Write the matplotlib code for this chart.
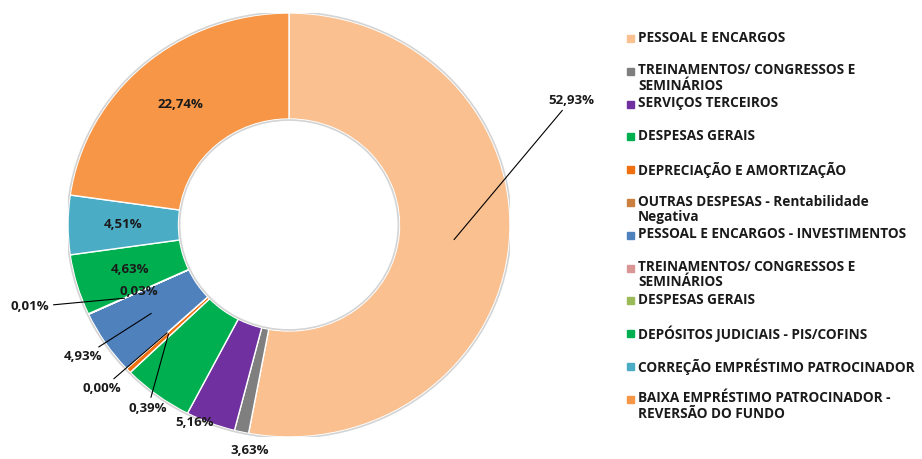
import numpy as np
import matplotlib.pyplot as plt
from matplotlib.patches import Circle, Rectangle

categorias = [
    "PESSOAL E ENCARGOS",
    "TREINAMENTOS/ CONGRESSOS E\nSEMINÁRIOS",
    "SERVIÇOS TERCEIROS",
    "DESPESAS GERAIS",
    "DEPRECIAÇÃO E AMORTIZAÇÃO",
    "OUTRAS DESPESAS - Rentabilidade\nNegativa",
    "PESSOAL E ENCARGOS - INVESTIMENTOS",
    "TREINAMENTOS/ CONGRESSOS E\nSEMINÁRIOS",
    "DESPESAS GERAIS",
    "DEPÓSITOS JUDICIAIS - PIS/COFINS",
    "CORREÇÃO EMPRÉSTIMO PATROCINADOR",
    "BAIXA EMPRÉSTIMO PATROCINADOR -\nREVERSÃO DO FUNDO",
]
valores = [52.93, 1.04, 3.63, 5.16, 0.39, 0.00, 4.93, 0.01, 0.03, 4.63, 4.51, 22.74]
cores = ["#FAC090", "#7F7F7F", "#7030A0", "#00B050", "#F07010", "#CC8040",
         "#4F81BD", "#D99694", "#9BBB59", "#00B050", "#4BACC6", "#F79646"]

# rótulos fora do anel (posição em pixels, com linha guia ou não)
rotulos_fora = {
    0: (571, 100, True),
    2: (250, 451, False),
    3: (195, 422, False),
    4: (148, 408, True),
    5: (102, 389, True),
    6: (83, 357, True),
    7: (30, 307, True),
}
rotulos_dentro = [8, 9, 10, 11]

W, H = 922, 459
cx, cy, rx, ry = 289, 225, 221, 212


def px(x, y):
    return ((x - cx) / rx, (cy - y) / ry)


def fmt(v):
    return f"{v:.2f}".replace(".", ",") + "%"


def ponto_medio(w, r):
    ang = np.deg2rad((w.theta1 + w.theta2) / 2)
    return r * np.cos(ang), r * np.sin(ang)


fig = plt.figure(figsize=(W / 100, H / 100), dpi=100)
ax = fig.add_axes([(cx - rx) / W, (H - cy - ry) / H, 2 * rx / W, 2 * ry / H])

wedges, _ = ax.pie(valores, colors=cores, startangle=90, counterclock=False,
                   radius=1, wedgeprops=dict(width=0.5, edgecolor="white", linewidth=1))
ax.set_aspect("auto")
ax.set_xlim(-1, 1)
ax.set_ylim(-1, 1)
ax.add_patch(Circle((0, 0), 1.005, fill=False, edgecolor="#d4d4d4", lw=1.2))
ax.add_patch(Circle((0, 0), 0.495, fill=False, edgecolor="#d4d4d4", lw=1.2))

fonte = dict(family="Open Sans", fontweight="bold", fontsize=9.5, color="#1a1a1a")

for i, (x, y, linha) in rotulos_fora.items():
    pos = px(x, y)
    if linha:
        r = 0.82 if i == 7 else 0.75
        ax.annotate(fmt(valores[i]), xy=ponto_medio(wedges[i], r), xytext=pos,
                    ha="center", va="center", annotation_clip=False,
                    arrowprops=dict(arrowstyle="-", color="black", lw=0.8,
                                    shrinkA=1, shrinkB=0), **fonte)
    else:
        ax.text(*pos, fmt(valores[i]), ha="center", va="center", **fonte)

for i in rotulos_dentro:
    ax.text(*ponto_medio(wedges[i], 0.75), fmt(valores[i]), ha="center", va="center", **fonte)

# legenda
for i, (nome, cor) in enumerate(zip(categorias, cores)):
    y = 38.5 + 32.8 * i
    fig.patches.append(Rectangle((627 / W, 1 - (y + 3.5) / H), 7 / W, 7 / H,
                                 transform=fig.transFigure, color=cor))
    fig.text(638 / W, 1 - (y - 8) / H, nome, ha="left", va="top", linespacing=1.12,
             family="Open Sans", fontweight="bold", fontsize=9.8, color="#1a1a1a")

fig.savefig("out.png", dpi=100)
